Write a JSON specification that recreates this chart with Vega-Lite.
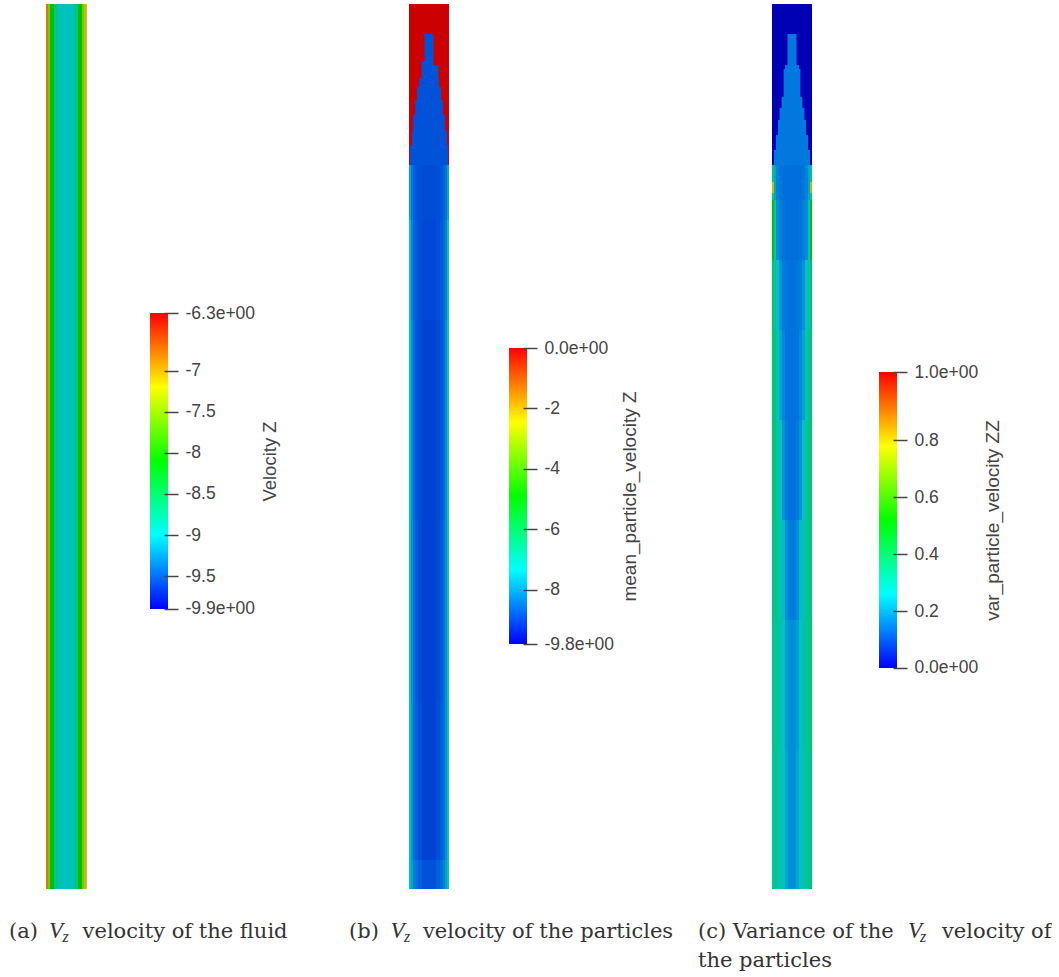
{"$schema":"https://vega.github.io/schema/vega-lite/v6.json","padding":{"left":9,"top":4,"right":0,"bottom":0},"background":"white","config":{"view":{"stroke":null},"axis":{"grid":false}},"bounds":"flush","spacing":363,"resolve":{"scale":{"color":"independent"}},"hconcat":[
{"bounds":"flush","spacing":64,"resolve":{"scale":{"color":"independent"}},"hconcat":[
{"width":40,"height":885,"encoding":{"x":{"field":"r0","type":"quantitative","axis":null,"scale":{"domain":[-1,1],"nice":false,"zero":false}},"y":{"field":"z0","type":"quantitative","axis":null,"scale":{"domain":[0,8.85],"nice":false,"zero":false}}},"layer":[
{"data":{"values":[
{"r0":-1,"r1":-0.9,"z0":0,"z1":8.85,"v":-6.73},{"r0":-0.9,"r1":-0.8,"z0":0,"z1":8.85,"v":-7.67},{"r0":-0.8,"r1":-0.6,"z0":0,"z1":8.85,"v":-8.1},{"r0":-0.6,"r1":-0.4,"z0":0,"z1":8.85,"v":-8.53},{"r0":-0.4,"r1":-0.3,"z0":0,"z1":8.85,"v":-8.78},{"r0":-0.3,"r1":-0.2,"z0":0,"z1":8.85,"v":-8.82},{"r0":-0.2,"r1":0.2,"z0":0,"z1":8.85,"v":-8.86},{"r0":0.2,"r1":0.4,"z0":0,"z1":8.85,"v":-8.82},{"r0":0.4,"r1":0.6,"z0":0,"z1":8.85,"v":-8.53},{"r0":0.6,"r1":0.8,"z0":0,"z1":8.85,"v":-8.1},{"r0":0.8,"r1":0.9,"z0":0,"z1":8.85,"v":-7.67},{"r0":0.9,"r1":1,"z0":0,"z1":8.85,"v":-7.38}]},
"mark":{"type":"rect"},"encoding":{"x2":{"field":"r1"},"y2":{"field":"z1"},"color":{"field":"v","type":"quantitative","legend":null,"scale":{"domain":[-9.9,-9,-8.1,-7.2,-6.3],"range":["#0000b4","#00c0c8","#00c000","#c8c800","#cc0000"]}}}},
{"data":{"values":[{"r0":1,"r1":1.05,"z0":0,"z1":8.85}]},"mark":{"type":"rect","color":"#cc5a00","opacity":0.5},"encoding":{"x2":{"field":"r1"},"y2":{"field":"z1"}}},
{"data":{"values":[{"r0":-2.85,"z0":-0.49,"t":"(a)"},{"r0":0.83,"z0":-0.49,"t":"velocity of the fluid"}]},"mark":{"type":"text","align":"left","baseline":"alphabetic","font":"DejaVu Serif","fontSize":21,"color":"#333"},"encoding":{"text":{"field":"t"}}},
{"data":{"values":[{"r0":-0.85,"z0":-0.49,"t":"V"}]},"mark":{"type":"text","align":"left","baseline":"alphabetic","font":"Liberation Serif","fontStyle":"italic","fontSize":23,"color":"#333"},"encoding":{"text":{"field":"t"}}},
{"data":{"values":[{"r0":-0.175,"z0":-0.53,"t":"z"}]},"mark":{"type":"text","align":"left","baseline":"alphabetic","font":"Liberation Serif","fontStyle":"italic","fontSize":16,"color":"#333"},"encoding":{"text":{"field":"t"}}}
]},
{"width":18,"height":885,"data":{"values":[{"x0":0,"x1":1,"lo":-9.9,"hi":-6.3}]},"mark":{"type":"rect","color":{"gradient":"linear","x1":0,"y1":1,"x2":0,"y2":0,"stops":[{"offset":0,"color":"#0000ff"},{"offset":0.25,"color":"#00ffff"},{"offset":0.5,"color":"#00ff00"},{"offset":0.75,"color":"#ffff00"},{"offset":1,"color":"#ff0000"}]}},"encoding":{"x":{"field":"x0","type":"quantitative","axis":null,"scale":{"domain":[0,1],"nice":false,"zero":false}},"x2":{"field":"x1"},"y":{"field":"lo","type":"quantitative","scale":{"domain":[-13.306,-2.541],"nice":false,"zero":false},"axis":{"orient":"right","offset":-4,"zindex":1,"domain":false,"values":[-9.9,-9.5,-9,-8.5,-8,-7.5,-7,-6.3],"labelExpr":"datum.value==-9.9?'-9.9e+00':datum.value==-6.3?'-6.3e+00':''+datum.value","tickSize":14,"tickWidth":1.5,"tickColor":"#444","labelPadding":7,"labelFont":"Liberation Sans","labelFontSize":17.5,"labelColor":"#444","labelFlush":false,"labelOverlap":false,"title":"Velocity Z","titleFont":"Liberation Sans","titleFontSize":18.5,"titleFontWeight":"normal","titleColor":"#444","titleAngle":-90,"titleAlign":"center","titleBaseline":"middle","titleX":105,"titleY":457}},"y2":{"field":"hi"}}}
]},
{"bounds":"flush","spacing":363,"resolve":{"scale":{"color":"independent"}},"hconcat":[
{"bounds":"flush","spacing":60,"resolve":{"scale":{"color":"independent"}},"hconcat":[
{"width":40,"height":885,"encoding":{"x":{"field":"r0","type":"quantitative","axis":null,"scale":{"domain":[-1,1],"nice":false,"zero":false}},"y":{"field":"z0","type":"quantitative","axis":null,"scale":{"domain":[0,8.85],"nice":false,"zero":false}}},"layer":[
{"data":{"values":[
{"r0":-1,"r1":1,"z0":7.24,"z1":8.85,"v":0},
{"r0":-0.225,"r1":0.225,"z0":8.28,"z1":8.55,"v":-9.11},{"r0":-0.375,"r1":0.225,"z0":8.23,"z1":8.28,"v":-9.11},{"r0":-0.37,"r1":0.47,"z0":8.11,"z1":8.23,"v":-9.11},{"r0":-0.5,"r1":0.5,"z0":8.02,"z1":8.11,"v":-9.11},{"r0":-0.6,"r1":0.6,"z0":7.89,"z1":8.02,"v":-9.11},{"r0":-0.7,"r1":0.7,"z0":7.74,"z1":7.89,"v":-9.11},{"r0":-0.8,"r1":0.8,"z0":7.59,"z1":7.74,"v":-9.11},{"r0":-0.85,"r1":0.9,"z0":7.44,"z1":7.59,"v":-9.11},{"r0":-0.95,"r1":0.95,"z0":7.24,"z1":7.44,"v":-9.11},
{"r0":-1,"r1":-0.9,"z0":6.69,"z1":7.24,"v":-7.84},{"r0":-0.9,"r1":-0.8,"z0":6.69,"z1":7.24,"v":-8.62},{"r0":-0.8,"r1":-0.7,"z0":6.69,"z1":7.24,"v":-8.92},{"r0":-0.7,"r1":-0.55,"z0":6.69,"z1":7.24,"v":-9.07},{"r0":-0.55,"r1":-0.35,"z0":6.69,"z1":7.24,"v":-9.16},{"r0":-0.35,"r1":0.35,"z0":6.69,"z1":7.24,"v":-9.21},{"r0":0.35,"r1":0.55,"z0":6.69,"z1":7.24,"v":-9.16},{"r0":0.55,"r1":0.7,"z0":6.69,"z1":7.24,"v":-9.07},{"r0":0.7,"r1":0.8,"z0":6.69,"z1":7.24,"v":-8.92},{"r0":0.8,"r1":0.9,"z0":6.69,"z1":7.24,"v":-8.62},{"r0":0.9,"r1":1,"z0":6.69,"z1":7.24,"v":-7.84},
{"r0":-1,"r1":-0.9,"z0":5.69,"z1":6.69,"v":-7.25},{"r0":-0.9,"r1":-0.8,"z0":5.69,"z1":6.69,"v":-8.43},{"r0":-0.8,"r1":-0.7,"z0":5.69,"z1":6.69,"v":-8.82},{"r0":-0.7,"r1":-0.55,"z0":5.69,"z1":6.69,"v":-9.02},{"r0":-0.55,"r1":-0.35,"z0":5.69,"z1":6.69,"v":-9.16},{"r0":-0.35,"r1":0.35,"z0":5.69,"z1":6.69,"v":-9.26},{"r0":0.35,"r1":0.55,"z0":5.69,"z1":6.69,"v":-9.16},{"r0":0.55,"r1":0.7,"z0":5.69,"z1":6.69,"v":-9.02},{"r0":0.7,"r1":0.8,"z0":5.69,"z1":6.69,"v":-8.82},{"r0":0.8,"r1":0.9,"z0":5.69,"z1":6.69,"v":-8.43},{"r0":0.9,"r1":1,"z0":5.69,"z1":6.69,"v":-7.25},
{"r0":-1,"r1":-0.9,"z0":3.69,"z1":5.69,"v":-7.06},{"r0":-0.9,"r1":-0.8,"z0":3.69,"z1":5.69,"v":-8.23},{"r0":-0.8,"r1":-0.7,"z0":3.69,"z1":5.69,"v":-8.82},{"r0":-0.7,"r1":-0.55,"z0":3.69,"z1":5.69,"v":-9.07},{"r0":-0.55,"r1":-0.35,"z0":3.69,"z1":5.69,"v":-9.21},{"r0":-0.35,"r1":0.35,"z0":3.69,"z1":5.69,"v":-9.31},{"r0":0.35,"r1":0.55,"z0":3.69,"z1":5.69,"v":-9.21},{"r0":0.55,"r1":0.7,"z0":3.69,"z1":5.69,"v":-9.07},{"r0":0.7,"r1":0.8,"z0":3.69,"z1":5.69,"v":-8.82},{"r0":0.8,"r1":0.9,"z0":3.69,"z1":5.69,"v":-8.23},{"r0":0.9,"r1":1,"z0":3.69,"z1":5.69,"v":-7.06},
{"r0":-1,"r1":-0.9,"z0":1.89,"z1":3.69,"v":-7.06},{"r0":-0.9,"r1":-0.8,"z0":1.89,"z1":3.69,"v":-8.13},{"r0":-0.8,"r1":-0.7,"z0":1.89,"z1":3.69,"v":-8.72},{"r0":-0.7,"r1":-0.55,"z0":1.89,"z1":3.69,"v":-9.02},{"r0":-0.55,"r1":-0.35,"z0":1.89,"z1":3.69,"v":-9.21},{"r0":-0.35,"r1":0.35,"z0":1.89,"z1":3.69,"v":-9.31},{"r0":0.35,"r1":0.55,"z0":1.89,"z1":3.69,"v":-9.21},{"r0":0.55,"r1":0.7,"z0":1.89,"z1":3.69,"v":-9.02},{"r0":0.7,"r1":0.8,"z0":1.89,"z1":3.69,"v":-8.72},{"r0":0.8,"r1":0.9,"z0":1.89,"z1":3.69,"v":-8.13},{"r0":0.9,"r1":1,"z0":1.89,"z1":3.69,"v":-6.96},
{"r0":-1,"r1":-0.9,"z0":0.29,"z1":1.89,"v":-6.96},{"r0":-0.9,"r1":-0.8,"z0":0.29,"z1":1.89,"v":-8.13},{"r0":-0.8,"r1":-0.7,"z0":0.29,"z1":1.89,"v":-8.72},{"r0":-0.7,"r1":-0.55,"z0":0.29,"z1":1.89,"v":-8.97},{"r0":-0.55,"r1":-0.35,"z0":0.29,"z1":1.89,"v":-9.16},{"r0":-0.35,"r1":0.35,"z0":0.29,"z1":1.89,"v":-9.31},{"r0":0.35,"r1":0.55,"z0":0.29,"z1":1.89,"v":-9.16},{"r0":0.55,"r1":0.7,"z0":0.29,"z1":1.89,"v":-8.97},{"r0":0.7,"r1":0.8,"z0":0.29,"z1":1.89,"v":-8.72},{"r0":0.8,"r1":0.9,"z0":0.29,"z1":1.89,"v":-8.13},{"r0":0.9,"r1":1,"z0":0.29,"z1":1.89,"v":-6.86},
{"r0":-1,"r1":-0.9,"z0":0,"z1":0.29,"v":-6.86},{"r0":-0.9,"r1":-0.8,"z0":0,"z1":0.29,"v":-7.94},{"r0":-0.8,"r1":-0.7,"z0":0,"z1":0.29,"v":-8.43},{"r0":-0.7,"r1":-0.55,"z0":0,"z1":0.29,"v":-8.72},{"r0":-0.55,"r1":-0.35,"z0":0,"z1":0.29,"v":-8.92},{"r0":-0.35,"r1":0.35,"z0":0,"z1":0.29,"v":-9.11},{"r0":0.35,"r1":0.55,"z0":0,"z1":0.29,"v":-8.92},{"r0":0.55,"r1":0.7,"z0":0,"z1":0.29,"v":-8.72},{"r0":0.7,"r1":0.8,"z0":0,"z1":0.29,"v":-8.43},{"r0":0.8,"r1":0.9,"z0":0,"z1":0.29,"v":-7.94},{"r0":0.9,"r1":1,"z0":0,"z1":0.29,"v":-6.86}]},
"mark":{"type":"rect"},"encoding":{"x2":{"field":"r1"},"y2":{"field":"z1"},"color":{"field":"v","type":"quantitative","legend":null,"scale":{"domain":[-9.8,-7.35,-4.9,-2.45,0],"range":["#0000b4","#00c0c8","#00c000","#c8c800","#cc0000"]}}}},
{"data":{"values":[{"r0":-4,"z0":-0.49,"t":"(b)"},{"r0":-0.3,"z0":-0.49,"t":"velocity of the particles"}]},"mark":{"type":"text","align":"left","baseline":"alphabetic","font":"DejaVu Serif","fontSize":21,"color":"#333"},"encoding":{"text":{"field":"t"}}},
{"data":{"values":[{"r0":-1.92,"z0":-0.49,"t":"V"}]},"mark":{"type":"text","align":"left","baseline":"alphabetic","font":"Liberation Serif","fontStyle":"italic","fontSize":23,"color":"#333"},"encoding":{"text":{"field":"t"}}},
{"data":{"values":[{"r0":-1.25,"z0":-0.53,"t":"z"}]},"mark":{"type":"text","align":"left","baseline":"alphabetic","font":"Liberation Serif","fontStyle":"italic","fontSize":16,"color":"#333"},"encoding":{"text":{"field":"t"}}}
]},
{"width":18,"height":885,"data":{"values":[{"x0":0,"x1":1,"lo":-9.8,"hi":0}]},"mark":{"type":"rect","color":{"gradient":"linear","x1":0,"y1":1,"x2":0,"y2":0,"stops":[{"offset":0,"color":"#0000ff"},{"offset":0.25,"color":"#00ffff"},{"offset":0.5,"color":"#00ff00"},{"offset":0.75,"color":"#ffff00"},{"offset":1,"color":"#ff0000"}]}},"encoding":{"x":{"field":"x0","type":"quantitative","axis":null,"scale":{"domain":[0,1],"nice":false,"zero":false}},"x2":{"field":"x1"},"y":{"field":"lo","type":"quantitative","scale":{"domain":[-17.91,11.39],"nice":false,"zero":false},"axis":{"orient":"right","offset":-4,"zindex":1,"domain":false,"values":[-9.8,-8,-6,-4,-2,0],"labelExpr":"datum.value==-9.8?'-9.8e+00':datum.value==0?'0.0e+00':''+datum.value","tickSize":14,"tickWidth":1.5,"tickColor":"#444","labelPadding":7,"labelFont":"Liberation Sans","labelFontSize":17.5,"labelColor":"#444","labelFlush":false,"labelOverlap":false,"title":"mean_particle_velocity Z","titleFont":"Liberation Sans","titleFontSize":19,"titleFontWeight":"normal","titleColor":"#444","titleAngle":-90,"titleAlign":"center","titleBaseline":"middle","titleX":106,"titleY":492}},"y2":{"field":"hi"}}}
]},
{"bounds":"flush","spacing":67,"resolve":{"scale":{"color":"independent"}},"hconcat":[
{"width":40,"height":885,"encoding":{"x":{"field":"r0","type":"quantitative","axis":null,"scale":{"domain":[-1,1],"nice":false,"zero":false}},"y":{"field":"z0","type":"quantitative","axis":null,"scale":{"domain":[0,8.85],"nice":false,"zero":false}}},"layer":[
{"data":{"values":[
{"r0":-1,"r1":1,"z0":7.24,"z1":8.85,"v":0},
{"r0":-0.225,"r1":0.225,"z0":8.24,"z1":8.55,"v":0.125},{"r0":-0.35,"r1":0.35,"z0":8.2,"z1":8.24,"v":0.125},{"r0":-0.42,"r1":0.42,"z0":7.92,"z1":8.2,"v":0.125},{"r0":-0.52,"r1":0.52,"z0":7.81,"z1":7.92,"v":0.125},{"r0":-0.62,"r1":0.62,"z0":7.69,"z1":7.81,"v":0.125},{"r0":-0.7,"r1":0.7,"z0":7.54,"z1":7.69,"v":0.125},{"r0":-0.8,"r1":0.8,"z0":7.39,"z1":7.54,"v":0.125},{"r0":-0.9,"r1":0.9,"z0":7.24,"z1":7.39,"v":0.125},
{"r0":-1,"r1":-0.9,"z0":6.89,"z1":7.24,"v":0.4},{"r0":-0.9,"r1":-0.8,"z0":6.89,"z1":7.24,"v":0.2},{"r0":-0.8,"r1":-0.65,"z0":6.89,"z1":7.24,"v":0.14},{"r0":-0.65,"r1":-0.5,"z0":6.89,"z1":7.24,"v":0.12},{"r0":-0.5,"r1":0.5,"z0":6.89,"z1":7.24,"v":0.11},{"r0":0.5,"r1":0.65,"z0":6.89,"z1":7.24,"v":0.12},{"r0":0.65,"r1":0.8,"z0":6.89,"z1":7.24,"v":0.14},{"r0":0.8,"r1":0.9,"z0":6.89,"z1":7.24,"v":0.2},{"r0":0.9,"r1":1,"z0":6.89,"z1":7.24,"v":0.4},
{"r0":-1,"r1":-0.9,"z0":6.29,"z1":6.89,"v":0.5},{"r0":-0.9,"r1":-0.8,"z0":6.29,"z1":6.89,"v":0.28},{"r0":-0.8,"r1":-0.65,"z0":6.29,"z1":6.89,"v":0.16},{"r0":-0.65,"r1":-0.5,"z0":6.29,"z1":6.89,"v":0.13},{"r0":-0.5,"r1":-0.35,"z0":6.29,"z1":6.89,"v":0.12},{"r0":-0.35,"r1":0.35,"z0":6.29,"z1":6.89,"v":0.11},{"r0":0.35,"r1":0.5,"z0":6.29,"z1":6.89,"v":0.12},{"r0":0.5,"r1":0.65,"z0":6.29,"z1":6.89,"v":0.13},{"r0":0.65,"r1":0.8,"z0":6.29,"z1":6.89,"v":0.16},{"r0":0.8,"r1":0.9,"z0":6.29,"z1":6.89,"v":0.28},{"r0":0.9,"r1":1,"z0":6.29,"z1":6.89,"v":0.5},
{"r0":-1,"r1":-0.9,"z0":5.59,"z1":6.29,"v":0.42},{"r0":-0.9,"r1":-0.8,"z0":5.59,"z1":6.29,"v":0.34},{"r0":-0.8,"r1":-0.65,"z0":5.59,"z1":6.29,"v":0.26},{"r0":-0.65,"r1":-0.5,"z0":5.59,"z1":6.29,"v":0.17},{"r0":-0.5,"r1":-0.35,"z0":5.59,"z1":6.29,"v":0.13},{"r0":-0.35,"r1":-0.2,"z0":5.59,"z1":6.29,"v":0.12},{"r0":-0.2,"r1":0.2,"z0":5.59,"z1":6.29,"v":0.115},{"r0":0.2,"r1":0.35,"z0":5.59,"z1":6.29,"v":0.12},{"r0":0.35,"r1":0.5,"z0":5.59,"z1":6.29,"v":0.13},{"r0":0.5,"r1":0.65,"z0":5.59,"z1":6.29,"v":0.17},{"r0":0.65,"r1":0.8,"z0":5.59,"z1":6.29,"v":0.26},{"r0":0.8,"r1":0.9,"z0":5.59,"z1":6.29,"v":0.34},{"r0":0.9,"r1":1,"z0":5.59,"z1":6.29,"v":0.42},
{"r0":-1,"r1":-0.9,"z0":4.69,"z1":5.59,"v":0.42},{"r0":-0.9,"r1":-0.8,"z0":4.69,"z1":5.59,"v":0.38},{"r0":-0.8,"r1":-0.65,"z0":4.69,"z1":5.59,"v":0.3},{"r0":-0.65,"r1":-0.5,"z0":4.69,"z1":5.59,"v":0.2},{"r0":-0.5,"r1":-0.35,"z0":4.69,"z1":5.59,"v":0.15},{"r0":-0.35,"r1":-0.2,"z0":4.69,"z1":5.59,"v":0.12},{"r0":-0.2,"r1":0.2,"z0":4.69,"z1":5.59,"v":0.115},{"r0":0.2,"r1":0.35,"z0":4.69,"z1":5.59,"v":0.12},{"r0":0.35,"r1":0.5,"z0":4.69,"z1":5.59,"v":0.15},{"r0":0.5,"r1":0.65,"z0":4.69,"z1":5.59,"v":0.2},{"r0":0.65,"r1":0.8,"z0":4.69,"z1":5.59,"v":0.3},{"r0":0.8,"r1":0.9,"z0":4.69,"z1":5.59,"v":0.38},{"r0":0.9,"r1":1,"z0":4.69,"z1":5.59,"v":0.42},
{"r0":-1,"r1":-0.9,"z0":3.69,"z1":4.69,"v":0.42},{"r0":-0.9,"r1":-0.8,"z0":3.69,"z1":4.69,"v":0.4},{"r0":-0.8,"r1":-0.65,"z0":3.69,"z1":4.69,"v":0.34},{"r0":-0.65,"r1":-0.5,"z0":3.69,"z1":4.69,"v":0.26},{"r0":-0.5,"r1":-0.35,"z0":3.69,"z1":4.69,"v":0.17},{"r0":-0.35,"r1":-0.2,"z0":3.69,"z1":4.69,"v":0.13},{"r0":-0.2,"r1":0.2,"z0":3.69,"z1":4.69,"v":0.115},{"r0":0.2,"r1":0.35,"z0":3.69,"z1":4.69,"v":0.13},{"r0":0.35,"r1":0.5,"z0":3.69,"z1":4.69,"v":0.17},{"r0":0.5,"r1":0.65,"z0":3.69,"z1":4.69,"v":0.26},{"r0":0.65,"r1":0.8,"z0":3.69,"z1":4.69,"v":0.34},{"r0":0.8,"r1":0.9,"z0":3.69,"z1":4.69,"v":0.4},{"r0":0.9,"r1":1,"z0":3.69,"z1":4.69,"v":0.42},
{"r0":-1,"r1":-0.9,"z0":2.69,"z1":3.69,"v":0.38},{"r0":-0.9,"r1":-0.8,"z0":2.69,"z1":3.69,"v":0.38},{"r0":-0.8,"r1":-0.65,"z0":2.69,"z1":3.69,"v":0.36},{"r0":-0.65,"r1":-0.5,"z0":2.69,"z1":3.69,"v":0.32},{"r0":-0.5,"r1":-0.35,"z0":2.69,"z1":3.69,"v":0.24},{"r0":-0.35,"r1":-0.2,"z0":2.69,"z1":3.69,"v":0.16},{"r0":-0.2,"r1":0.2,"z0":2.69,"z1":3.69,"v":0.13},{"r0":0.2,"r1":0.35,"z0":2.69,"z1":3.69,"v":0.16},{"r0":0.35,"r1":0.5,"z0":2.69,"z1":3.69,"v":0.24},{"r0":0.5,"r1":0.65,"z0":2.69,"z1":3.69,"v":0.32},{"r0":0.65,"r1":0.8,"z0":2.69,"z1":3.69,"v":0.36},{"r0":0.8,"r1":0.9,"z0":2.69,"z1":3.69,"v":0.38},{"r0":0.9,"r1":1,"z0":2.69,"z1":3.69,"v":0.4},
{"r0":-1,"r1":-0.9,"z0":1.39,"z1":2.69,"v":0.36},{"r0":-0.9,"r1":-0.8,"z0":1.39,"z1":2.69,"v":0.37},{"r0":-0.8,"r1":-0.65,"z0":1.39,"z1":2.69,"v":0.36},{"r0":-0.65,"r1":-0.5,"z0":1.39,"z1":2.69,"v":0.33},{"r0":-0.5,"r1":-0.35,"z0":1.39,"z1":2.69,"v":0.26},{"r0":-0.35,"r1":-0.2,"z0":1.39,"z1":2.69,"v":0.19},{"r0":-0.2,"r1":0.2,"z0":1.39,"z1":2.69,"v":0.16},{"r0":0.2,"r1":0.35,"z0":1.39,"z1":2.69,"v":0.19},{"r0":0.35,"r1":0.5,"z0":1.39,"z1":2.69,"v":0.26},{"r0":0.5,"r1":0.65,"z0":1.39,"z1":2.69,"v":0.33},{"r0":0.65,"r1":0.8,"z0":1.39,"z1":2.69,"v":0.35},{"r0":0.8,"r1":0.9,"z0":1.39,"z1":2.69,"v":0.38},{"r0":0.9,"r1":1,"z0":1.39,"z1":2.69,"v":0.42},
{"r0":-1,"r1":-0.9,"z0":0,"z1":1.39,"v":0.35},{"r0":-0.9,"r1":-0.8,"z0":0,"z1":1.39,"v":0.36},{"r0":-0.8,"r1":-0.65,"z0":0,"z1":1.39,"v":0.35},{"r0":-0.65,"r1":-0.5,"z0":0,"z1":1.39,"v":0.32},{"r0":-0.5,"r1":-0.35,"z0":0,"z1":1.39,"v":0.26},{"r0":-0.35,"r1":-0.2,"z0":0,"z1":1.39,"v":0.2},{"r0":-0.2,"r1":0.2,"z0":0,"z1":1.39,"v":0.16},{"r0":0.2,"r1":0.35,"z0":0,"z1":1.39,"v":0.2},{"r0":0.35,"r1":0.5,"z0":0,"z1":1.39,"v":0.26},{"r0":0.5,"r1":0.65,"z0":0,"z1":1.39,"v":0.32},{"r0":0.65,"r1":0.8,"z0":0,"z1":1.39,"v":0.35},{"r0":0.8,"r1":0.9,"z0":0,"z1":1.39,"v":0.37},{"r0":0.9,"r1":1,"z0":0,"z1":1.39,"v":0.41},
{"r0":-1,"r1":-0.9,"z0":6.96,"z1":7.07,"v":0.72},{"r0":0.9,"r1":1,"z0":6.96,"z1":7.07,"v":0.68}]},
"mark":{"type":"rect"},"encoding":{"x2":{"field":"r1"},"y2":{"field":"z1"},"color":{"field":"v","type":"quantitative","legend":null,"scale":{"domain":[0,0.25,0.5,0.75,1],"range":["#0000b4","#00c0c8","#00c000","#c8c800","#cc0000"]}}}},
{"data":{"values":[{"r0":-4.7,"z0":-0.49,"t":"(c) Variance of the"},{"r0":7.5,"z0":-0.49,"t":"velocity of"},{"r0":-4.7,"z0":-0.78,"t":"the particles"}]},"mark":{"type":"text","align":"left","baseline":"alphabetic","font":"DejaVu Serif","fontSize":21,"color":"#333"},"encoding":{"text":{"field":"t"}}},
{"data":{"values":[{"r0":5.8,"z0":-0.49,"t":"V"}]},"mark":{"type":"text","align":"left","baseline":"alphabetic","font":"Liberation Serif","fontStyle":"italic","fontSize":23,"color":"#333"},"encoding":{"text":{"field":"t"}}},
{"data":{"values":[{"r0":6.4,"z0":-0.53,"t":"z"}]},"mark":{"type":"text","align":"left","baseline":"alphabetic","font":"Liberation Serif","fontStyle":"italic","fontSize":16,"color":"#333"},"encoding":{"text":{"field":"t"}}}
]},
{"width":18,"height":885,"data":{"values":[{"x0":0,"x1":1,"lo":0,"hi":1.04}]},"mark":{"type":"rect","color":{"gradient":"linear","x1":0,"y1":1,"x2":0,"y2":0,"stops":[{"offset":0,"color":"#0000ff"},{"offset":0.25,"color":"#00ffff"},{"offset":0.5,"color":"#00ff00"},{"offset":0.75,"color":"#ffff00"},{"offset":1,"color":"#ff0000"}]}},"encoding":{"x":{"field":"x0","type":"quantitative","axis":null,"scale":{"domain":[0,1],"nice":false,"zero":false}},"x2":{"field":"x1"},"y":{"field":"lo","type":"quantitative","scale":{"domain":[-0.7765,2.333],"nice":false,"zero":false},"axis":{"orient":"right","offset":-4,"zindex":1,"domain":false,"values":[0,0.2,0.4,0.6,0.8,1.04],"labelExpr":"datum.value==0?'0.0e+00':datum.value==1.04?'1.0e+00':''+datum.value","tickSize":14,"tickWidth":1.5,"tickColor":"#444","labelPadding":7,"labelFont":"Liberation Sans","labelFontSize":17.5,"labelColor":"#444","labelFlush":false,"labelOverlap":false,"title":"var_particle_velocity ZZ","titleFont":"Liberation Sans","titleFontSize":19,"titleFontWeight":"normal","titleColor":"#444","titleAngle":-90,"titleAlign":"center","titleBaseline":"middle","titleX":99.5,"titleY":516}},"y2":{"field":"hi"}}}
]}
]}
]}
